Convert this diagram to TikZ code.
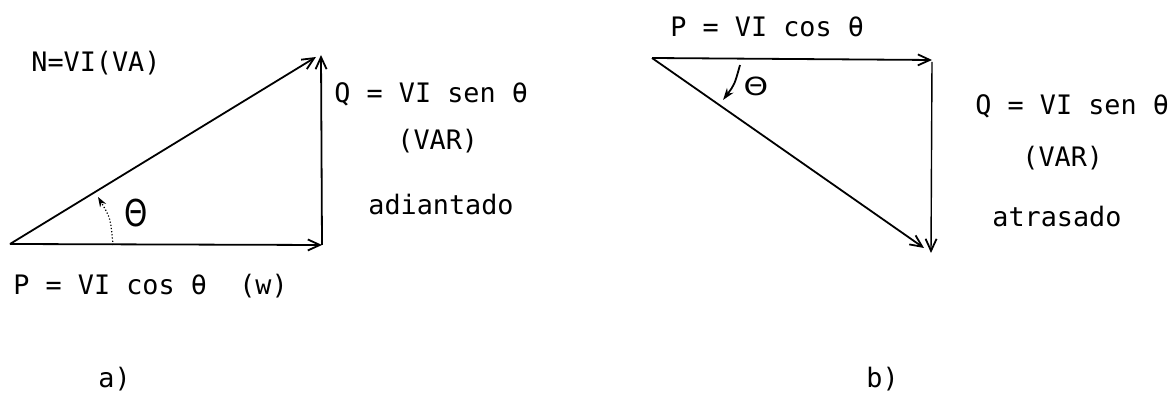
\documentclass[tikz,border=0pt]{standalone}
\usepackage{fontspec}
\setmainfont{DejaVu Sans Mono}
\newfontfamily\thfont{DejaVu Sans}
\usetikzlibrary{arrows.meta}
\begin{document}
\begin{tikzpicture}[x=0.5pt,y=-0.5pt,
  vec/.style={line width=0.9pt,-{Straight Barb[length=6pt,width=5.5pt,line width=0.9pt]}},
  ang/.style={line width=0.6pt},
  lbl/.style={anchor=base west,inner sep=0pt,font=\fontsize{13.4}{16}\selectfont},
  thl/.style={anchor=center,inner sep=0pt,font=\thfont\fontsize{18.5}{20}\selectfont}]
\useasboundingbox (0,0) rectangle (1173,394);
% ---------- a) ----------
\coordinate (O1) at (10,244);
\coordinate (P1) at (322,245);
\coordinate (Q1) at (321,55);
\coordinate (H1) at (316,57);
\draw[vec] (O1) -- (P1);
\draw[vec] (P1) -- (Q1);
\draw[vec] (O1) -- (H1);
\coordinate (A1s) at (113,245);
\coordinate (A1e) at (98,197);
\draw[ang,densely dotted,-{Stealth[length=5pt,width=3.5pt]}] (A1s) .. controls (110.5,218) .. (A1e);
\node[thl] (th1) at (136,213) {\scalebox{0.8}[1]{Θ}};
\node[lbl] (tN) at (31,72) {N=VI(VA)};
\node[lbl] (tQ1) at (334,103) {Q = VI sen θ};
\node[lbl] (tV1) at (397,150) {(VAR)};
\node[lbl] (tAd) at (368,215) {adiantado};
\node[lbl] (tP1) at (13,295) {P = VI cos θ\ \ (w)};
\node[lbl] (ta) at (98,388) {a)};
% ---------- b) ----------
\coordinate (O2) at (652,58);
\coordinate (P2) at (932,60);
\coordinate (Q2s) at (932,62);
\coordinate (Q2) at (931,253);
\coordinate (H2) at (924,248);
\draw[vec] (O2) -- (P2);
\draw[vec,line width=0.7pt] (Q2s) -- (Q2);
\draw[vec] (O2) -- (H2);
\coordinate (A2s) at (740,65);
\coordinate (A2e) at (723,100);
\draw[ang,line width=0.9pt,-{Stealth[length=6pt,width=4pt]}] (A2s) .. controls (734.5,84.7) .. (A2e);
\node[thl,font=\thfont\fontsize{12.5}{14}\selectfont] (th2) at (756,86) {\scalebox{1.25}[1]{Θ}};
\node[lbl] (tP2) at (670,37) {P = VI cos θ};
\node[lbl] (tQ2) at (975,115) {Q = VI sen θ};
\node[lbl] (tV2) at (1022,167) {(VAR)};
\node[lbl] (tAt) at (992,227) {atrasado};
\node[lbl] (tb) at (866,388) {b)};
\end{tikzpicture}
\end{document}
